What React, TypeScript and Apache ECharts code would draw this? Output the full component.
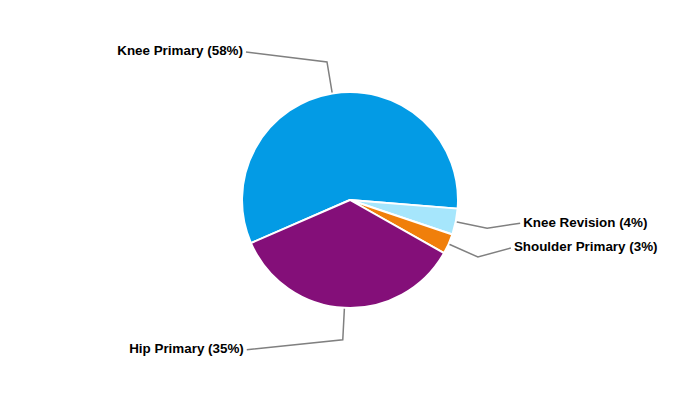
import React, { useEffect, useRef } from "react";
import * as echarts from "echarts";

const categories = ["Knee Primary", "Knee Revision", "Shoulder Primary", "Hip Primary"];
const values = [578, 39, 30, 353];
const colors = ["#039be5", "#a6e6fc", "#f07f0b", "#840f79"];

// elbow -> end offsets of the connector (layout only)
const connectorOffsets: [number, number][] = [
  [-81, -10],
  [33, -5],
  [33, -9],
  [-96, 10],
];

export default function App() {
  const ref = useRef<HTMLDivElement>(null);
  useEffect(() => {
    if (!ref.current) return;
    const chart = echarts.init(ref.current, undefined, { renderer: "svg" });
    chart.setOption({
      animation: false,
      backgroundColor: "#ffffff",
      series: [
        {
          type: "pie",
          center: [350, 200],
          radius: 108,
          startAngle: 203.5,
          clockwise: true,
          percentPrecision: 0,
          avoidLabelOverlap: false,
          data: categories.map((c, i) => ({
            name: c,
            value: values[i],
            itemStyle: { color: colors[i] },
          })),
          itemStyle: { borderColor: "#ffffff", borderWidth: 2 },
          label: {
            show: true,
            position: "outside",
            formatter: "{b} ({d}%)",
            fontFamily: "Arial, 'Liberation Sans', sans-serif",
            fontWeight: "bold",
            fontSize: 13.4,
            color: "#000000",
            alignTo: "none",
          },
          labelLine: {
            show: true,
            length: 32,
            length2: 20,
            smooth: false,
            lineStyle: { color: "#808080", width: 1.5 },
          },
          emphasis: { disabled: true },
          labelLayout: (params: any) => {
            const pts = params.labelLinePoints;
            if (!pts) return {};
            const i = params.dataIndex;
            const [ox, oy] = connectorOffsets[i];
            const p0 = pts[0];
            const p1 = pts[1];
            const end = [p1[0] + ox, p1[1] + oy];
            const left = ox < 0;
            return {
              x: left ? end[0] - 3 : end[0] + 3,
              y: end[1] - 1,
              align: left ? "right" : "left",
              verticalAlign: "middle",
              labelLinePoints: [p0, p1, end],
            };
          },
        },
      ],
    });
    return () => chart.dispose();
  }, []);
  return (
    <div
      ref={ref}
      style={{ position: "absolute", left: 0, top: 0, width: 700, height: 400 }}
    />
  );
}
